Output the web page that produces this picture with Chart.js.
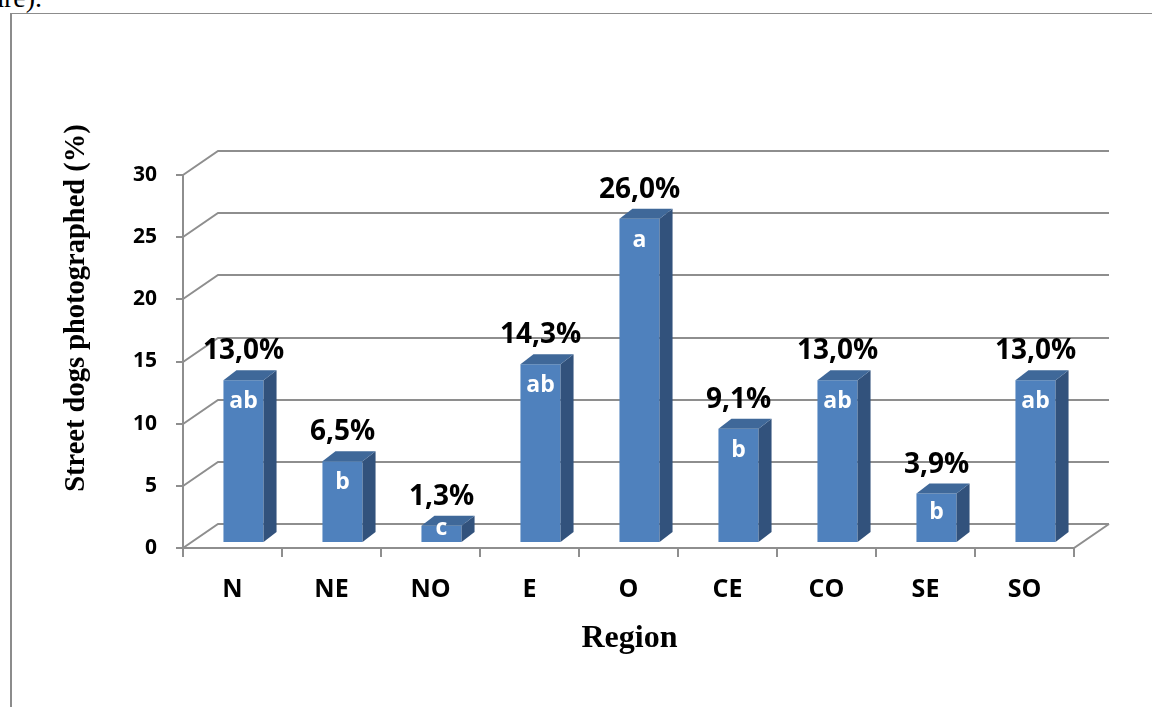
<!DOCTYPE html>
<html>
<head>
<meta charset="utf-8">
<script src="https://cdn.jsdelivr.net/npm/chart.js@4.4.1/dist/chart.umd.min.js"></script>
<style>
  html, body { margin: 0; padding: 0; background: #ffffff; overflow: hidden; }
  #page { position: relative; width: 1152px; height: 707px; overflow: hidden; }
  #caption { position: absolute; left: -10px; top: -16px; font: 28px/1 "Liberation Serif", serif; color: #000; white-space: nowrap; }
  #frame { position: absolute; left: 10px; top: 13px; width: 1300px; height: 900px;
           border-left: 2px solid #8c8c8c; border-top: 1px solid #8c8c8c; }
  #chart { position: absolute; left: 0; top: 0; }
</style>
</head>
<body>
<div id="page">
  <div id="caption">ure).</div>
  <div id="frame"></div>
  <canvas id="chart" width="1152" height="707"></canvas>
</div>
<script>
// Share of street dogs photographed per region, with significance groups
const regions = ['N', 'NE', 'NO', 'E', 'O', 'CE', 'CO', 'SE', 'SO'];
const dogShare = [13.0, 6.5, 1.3, 14.3, 26.0, 9.1, 13.0, 3.9, 13.0];
const groupLetters = ['ab', 'b', 'c', 'ab', 'a', 'b', 'ab', 'b', 'ab'];
const yTickValues = [0, 5, 10, 15, 20, 25, 30];

const yTitle = 'Street dogs photographed (%)';
const xTitle = 'Region';

// pseudo-3D geometry (pixels)
const WALL_DX = 35, WALL_DY = -24;   // depth of the floor / back wall
const BAR_SHIFT_X = 11, BAR_SHIFT_Y = -6; // bars sit inside the depth
const BAR_DX = 13, BAR_DY = -10;      // bar thickness
const GRID_COLOR = '#8e8e8e';
const FRONT = '#4f81bd', TOP = '#3f6899', SIDE = '#32527c';

const SANS = '"Open Sans", Lato, sans-serif';
const sansBold = (size) => ({ family: SANS, size: size, weight: 'bold' });

const formatShare = (v) => v.toFixed(1).replace('.', ',') + '%';

const box3d = {
  id: 'box3d',
  beforeDatasetsDraw(chart) {
    const { ctx, chartArea: a, scales: { x, y } } = chart;
    ctx.save();
    ctx.strokeStyle = GRID_COLOR;
    ctx.lineWidth = 2;
    ctx.lineCap = 'butt';
    // back wall gridlines with the left side wall diagonals
    y.ticks.forEach((t) => {
      const py = Math.round(y.getPixelForValue(t.value));
      ctx.beginPath();
      ctx.moveTo(a.left, py);
      ctx.lineTo(a.left + WALL_DX, py + WALL_DY);
      ctx.lineTo(a.right + WALL_DX, py + WALL_DY);
      ctx.stroke();
    });
    // floor front edge and right edge
    const py0 = Math.round(y.getPixelForValue(0));
    ctx.beginPath();
    ctx.moveTo(a.left, py0);
    ctx.lineTo(a.right, py0);
    ctx.lineTo(a.right + WALL_DX, py0 + WALL_DY);
    ctx.stroke();
    // value axis line and tick marks
    ctx.beginPath();
    ctx.moveTo(a.left, Math.round(y.getPixelForValue(y.max)));
    ctx.lineTo(a.left, py0);
    y.ticks.forEach((t) => {
      const py = Math.round(y.getPixelForValue(t.value));
      ctx.moveTo(a.left - 7, py);
      ctx.lineTo(a.left, py);
    });
    // category boundary tick marks
    const step = x.getPixelForTick(1) - x.getPixelForTick(0);
    for (let i = 0; i <= regions.length; i++) {
      const px = Math.round(i === regions.length ? a.right : x.getPixelForTick(i) - step / 2);
      ctx.moveTo(px, py0);
      ctx.lineTo(px, py0 + 9);
    }
    ctx.stroke();
    ctx.restore();

    // front faces are drawn by the library, shifted into the depth
    ctx.save();
    ctx.translate(BAR_SHIFT_X, BAR_SHIFT_Y);
  },
  afterDatasetsDraw(chart) {
    const { ctx } = chart;
    ctx.restore();
    const meta = chart.getDatasetMeta(0);
    meta.data.forEach((bar, i) => {
      const p = bar.getProps(['x', 'y', 'base', 'width'], true);
      const L = p.x - p.width / 2 + BAR_SHIFT_X;
      const R = p.x + p.width / 2 + BAR_SHIFT_X;
      const T = p.y + BAR_SHIFT_Y;
      const B = p.base + BAR_SHIFT_Y;
      // side face
      ctx.fillStyle = SIDE;
      ctx.beginPath();
      ctx.moveTo(R, T);
      ctx.lineTo(R + BAR_DX, T + BAR_DY);
      ctx.lineTo(R + BAR_DX, B + BAR_DY);
      ctx.lineTo(R, B);
      ctx.closePath();
      ctx.fill();
      // top face
      ctx.fillStyle = TOP;
      ctx.beginPath();
      ctx.moveTo(L, T);
      ctx.lineTo(L + BAR_DX, T + BAR_DY);
      ctx.lineTo(R + BAR_DX, T + BAR_DY);
      ctx.lineTo(R, T);
      ctx.closePath();
      ctx.fill();

      const cx = (L + R) / 2;
      ctx.textAlign = 'center';
      ctx.textBaseline = 'alphabetic';
      // significance letter inside the bar
      ctx.fillStyle = '#ffffff';
      ctx.font = 'bold 23px ' + SANS;
      ctx.fillText(groupLetters[i], cx, T + Math.min(28, (B - T) / 2 + 1));
      // value label above the bar
      ctx.fillStyle = '#000000';
      ctx.font = 'bold 28px ' + SANS;
      ctx.fillText(formatShare(dogShare[i]), cx, T - 21);
    });
  },
  afterDraw(chart) {
    const { ctx, chartArea: a } = chart;
    ctx.save();
    ctx.fillStyle = '#000000';
    ctx.textAlign = 'center';
    ctx.textBaseline = 'alphabetic';
    // category axis title
    ctx.font = 'bold 32px "Liberation Serif", serif';
    ctx.fillText(xTitle, (a.left + a.right) / 2 + 1, 647);
    // value axis title
    ctx.translate(83.5, 308);
    ctx.rotate(-Math.PI / 2);
    ctx.font = 'bold 28.5px "Liberation Serif", serif';
    ctx.fillText(yTitle, 0, 0);
    ctx.restore();
  }
};

new Chart(document.getElementById('chart'), {
  type: 'bar',
  data: {
    labels: regions,
    datasets: [{
      data: dogShare,
      backgroundColor: FRONT,
      borderWidth: 0,
      categoryPercentage: 1,
      barPercentage: 0.405
    }]
  },
  options: {
    responsive: false,
    animation: false,
    devicePixelRatio: 1,
    layout: { padding: { left: 0, top: 175, right: 78, bottom: 0 } },
    plugins: { legend: { display: false }, tooltip: { enabled: false } },
    scales: {
      x: {
        grid: { display: false, drawTicks: false },
        border: { display: false },
        ticks: { color: '#000', font: sansBold(25), padding: 27 },
        afterFit(s) { s.height = 707 - 548; }
      },
      y: {
        min: 0,
        max: yTickValues[yTickValues.length - 1],
        afterBuildTicks(s) { s.ticks = yTickValues.map((v) => ({ value: v })); },
        grid: { display: false, drawTicks: false },
        border: { display: false },
        ticks: { color: '#000', font: sansBold(21), padding: 26 },
        afterFit(s) { s.width = 183; }
      }
    }
  },
  plugins: [box3d]
});
</script>
</body>
</html>
